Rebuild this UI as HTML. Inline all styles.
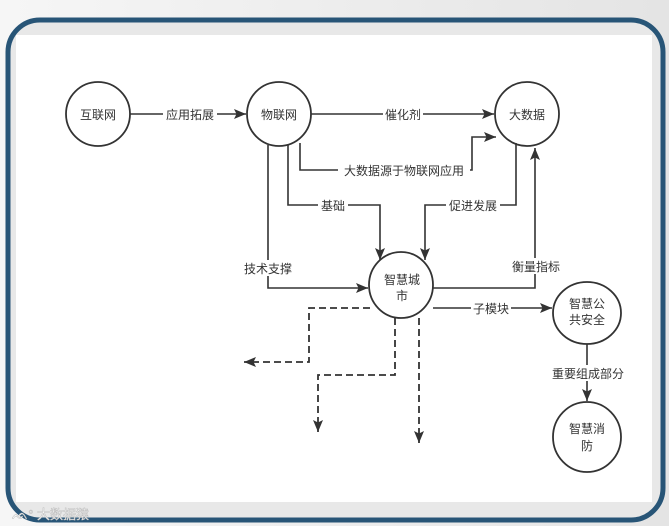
<!DOCTYPE html>
<html><head><meta charset="utf-8"><style>
html,body{margin:0;padding:0;width:669px;height:526px;overflow:hidden;background:linear-gradient(90deg,#f6f6f6,#e4e4e4);}
svg{display:block}
text{font-family:"Liberation Sans","Noto Sans CJK SC",sans-serif;font-size:12px;fill:#333;}
</style></head><body>
<svg width="669" height="526" viewBox="0 0 669 526">
<defs>
<marker id="a" viewBox="0 0 12 12" refX="12" refY="6" markerWidth="12" markerHeight="12" markerUnits="userSpaceOnUse" orient="auto"><path d="M0,1L12,6L0,11L2.5,6z" fill="#333"/></marker>
</defs>
<rect x="8" y="20" width="655" height="500" rx="32" fill="#e8e8e8" stroke="#285577" stroke-width="5"/>
<rect x="16" y="35" width="636" height="467" fill="#fff"/>
<g fill="none" stroke="#333" stroke-width="1.8">
<ellipse cx="98" cy="114" rx="32" ry="32"/>
<ellipse cx="279" cy="114" rx="32" ry="32"/>
<ellipse cx="527" cy="114" rx="32" ry="32"/>
<ellipse cx="401" cy="285" rx="32" ry="33"/>
<ellipse cx="587" cy="313" rx="34" ry="31"/>
<ellipse cx="587" cy="437" rx="34" ry="35"/>
</g>
<g fill="none" stroke="#333" stroke-width="1.6" marker-end="url(#a)">
<path d="M130,114H246"/>
<path d="M311,114H494"/>
<path d="M300,143V170H472V137H496"/>
<path d="M288,145V205H380V260"/>
<path d="M516,143V205H425V260"/>
<path d="M268,145V288H368"/>
<path d="M433,288H535V148"/>
<path d="M433,308H552"/>
<path d="M587,344V401"/>
</g>
<g fill="none" stroke="#333" stroke-width="1.8" stroke-dasharray="7,4" marker-end="url(#a)">
<path d="M370,308H309V362H244"/>
<path d="M395,318V375H318V432"/>
<path d="M419,318V443"/>
</g>
<g text-anchor="middle">
<rect x="163" y="106" width="54" height="16" fill="#fff"/><text x="190" y="119">应用拓展</text>
<rect x="383" y="106" width="40" height="16" fill="#fff"/><text x="403" y="119">催化剂</text>
<rect x="338" y="162" width="132" height="16" fill="#fff"/><text x="404" y="175">大数据源于物联网应用</text>
<rect x="318" y="197" width="30" height="16" fill="#fff"/><text x="333" y="210">基础</text>
<rect x="446" y="197" width="54" height="16" fill="#fff"/><text x="473" y="210">促进发展</text>
<rect x="240" y="260" width="56" height="16" fill="#fff"/><text x="268" y="273">技术支撑</text>
<rect x="508" y="258" width="56" height="16" fill="#fff"/><text x="536" y="271">衡量指标</text>
<rect x="471" y="300" width="40" height="16" fill="#fff"/><text x="491" y="313">子模块</text>
<rect x="548" y="365" width="80" height="16" fill="#fff"/><text x="588" y="378">重要组成部分</text>
<text x="98" y="119">互联网</text>
<text x="279" y="119">物联网</text>
<text x="527" y="119">大数据</text>
<text x="402" y="284">智慧城</text><text x="402" y="300">市</text>
<text x="587" y="308">智慧公</text><text x="587" y="324">共安全</text>
<text x="587" y="433">智慧消</text><text x="587" y="450">防</text>
</g>
<text x="12" y="519" style="font-size:13px;fill:#fff;stroke:#bbb;stroke-width:0.5">ᨒ° 大数据猿</text>
</svg>
</body></html>
